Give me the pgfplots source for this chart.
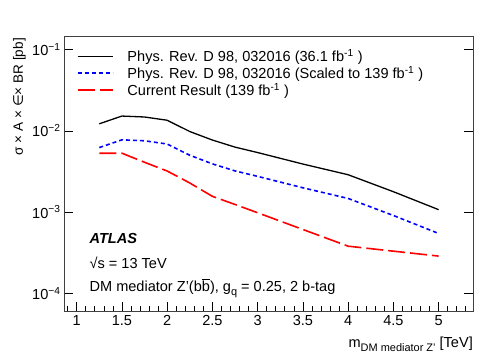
\documentclass[border=0pt]{standalone}
\usepackage{fontspec}
\setmainfont{Liberation Sans}
\newfontfamily\dejavu{DejaVu Sans}
\usepackage{pgfplots}
\pgfplotsset{compat=1.18}

\pgfplotstableread{
m     prev    scaled    current
1.25  0.0122  0.00622   0.0053
1.50  0.0152  0.00775   0.0053
1.75  0.0148  0.00754   0.0041
2.00  0.0135  0.00688   0.0032
2.25  0.0098  0.00500   0.00228
2.50  0.0077  0.00392   0.00156
2.75  0.0063  0.00321   0.00124
3.00  0.0054  0.00275   0.00098
3.50  0.0039  0.00199   0.00061
4.00  0.00288 0.00147   0.00038
4.50  0.00178 0.000907  0.00033
5.00  0.00107 0.000545  0.000287
}\limits

\newcommand{\lbl}{\fontsize{14.6}{16}\selectfont}
\newcommand{\sub}[1]{\raisebox{-0.3em}{\fontsize{11}{12}\selectfont #1}}

\begin{document}
\begin{tikzpicture}
\useasboundingbox (-64bp,-47bp) rectangle (434bp,311bp);
\begin{axis}[
  at={(0,0)}, anchor=south west,
  scale only axis,
  width=409bp, height=275bp,
  ymode=log, log basis y=10,
  xmin=0.86, xmax=5.38,
  ymin=6.05e-5, ymax=0.147,
  xtick={0.5,1,...,5.5},
  minor x tick num=4,
  ytick={1e-5,1e-4,1e-3,1e-2,1e-1,1},
  xtick pos=bottom, ytick pos=both,
  tick align=inside,
  major tick length=9bp, minor tick length=5bp,
  every tick/.style={black, line width=0.6pt},
  axis line style={black!75, line width=0.8pt},
  /pgf/number format/assume math mode=true,
  ticklabel style={font=\lbl},
  xticklabel style={yshift=-1bp},
  yticklabel={\pgfmathparse{int(round(-\tick))}10\textsuperscript{−\pgfmathresult}},
  clip=false,
  legend cell align=left,
  legend image code/.code={\draw[#1] (0bp,0bp) -- (35bp,0bp); \path (47bp,0bp);},
  legend style={at={(axis description cs:0.031,0.958)}, anchor=north west,
    draw=none, fill=none, font=\lbl, row sep=-1bp, inner sep=0pt},
]
\addplot[black, line width=1.3bp] table[x=m, y=prev] {\limits};
\addlegendentry{Phys. Rev. D 98, 032016 (36.1 fb\textsuperscript{-1} )}
\addplot[blue, line width=1.6bp, dash pattern=on 4bp off 3bp] table[x=m, y=scaled] {\limits};
\addlegendentry{Phys. Rev. D 98, 032016 (Scaled to 139 fb\textsuperscript{-1} )}
\addplot[red, line width=1.6bp, dash pattern=on 17bp off 5bp] table[x=m, y=current] {\limits};
\addlegendentry{Current Result (139 fb\textsuperscript{-1} )}

\node[anchor=base west, font=\lbl\bfseries\itshape] at (rel axis cs:0.054,0.246) {ATLAS};
\node[anchor=base west, font=\lbl] at (rel axis cs:0.054,0.156) {√s = 13 TeV};
\node[anchor=base west, font=\lbl] at (rel axis cs:0.054,0.0725)
  {DM mediator Z'(b$\overline{\mbox{b}}$), g\sub{q} = 0.25, 2 b-tag};
\node[xshift=0bp, yshift=-36bp, anchor=base east, font=\lbl, inner sep=0pt] at (rel axis cs:1,0)
  {m\sub{DM mediator Z'} [TeV]};
\node[xshift=-41bp, yshift=-2bp, rotate=90, anchor=base east, font=\fontsize{13.6}{16}\selectfont, inner sep=0pt] at (rel axis cs:0,1)
  {σ × A × {\dejavu ∈}× BR [pb]};
\end{axis}
\end{tikzpicture}
\end{document}
